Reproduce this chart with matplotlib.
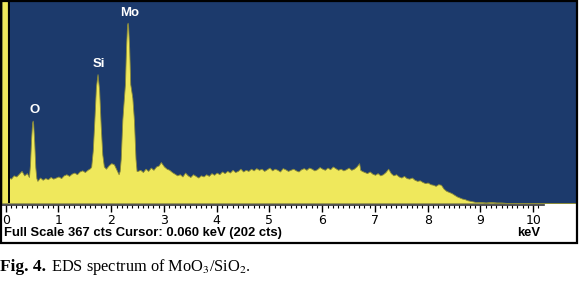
import matplotlib

matplotlib.use("Agg")
import matplotlib.pyplot as plt
from matplotlib.patches import Rectangle
from matplotlib.ticker import FixedLocator

# spectrum (keV, counts); full scale = 367 cts
KEV = [
    -0.08, -0.075, 0.035, 0.045,
    0.05, 0.10, 0.15, 0.20, 0.25, 0.30, 0.35, 0.40, 0.44,
    0.46, 0.48, 0.50, 0.51, 0.52, 0.54, 0.56, 0.58,
    0.60, 0.65, 0.70, 0.75, 0.80, 0.85, 0.90, 0.95, 1.00, 1.05, 1.10, 1.15,
    1.20, 1.25, 1.30, 1.35, 1.40, 1.45, 1.50, 1.55, 1.60,
    1.62, 1.65, 1.68, 1.71, 1.74, 1.77, 1.80, 1.83, 1.86,
    1.90, 1.95, 2.00, 2.05, 2.10, 2.14,
    2.16, 2.18, 2.21, 2.24, 2.26, 2.28, 2.30, 2.31, 2.32, 2.34, 2.36, 2.40,
    2.43, 2.46, 2.48,
    2.50, 2.55, 2.60, 2.65, 2.70, 2.75, 2.80, 2.85, 2.90, 2.94, 3.00, 3.05,
    3.10, 3.15, 3.20, 3.25, 3.30, 3.35, 3.40, 3.45, 3.50, 3.55, 3.60, 3.65,
    3.70, 3.75, 3.80, 3.85, 3.90, 3.95, 4.00, 4.05, 4.10, 4.15, 4.20, 4.25,
    4.30, 4.35, 4.40, 4.45, 4.50, 4.55, 4.60, 4.65, 4.70, 4.75, 4.80, 4.85,
    4.90, 4.95, 5.00, 5.05, 5.10, 5.15, 5.20, 5.25, 5.30, 5.35, 5.40, 5.45,
    5.50, 5.55, 5.60, 5.65, 5.70, 5.75, 5.80, 5.85, 5.90, 5.95, 6.00, 6.05,
    6.10, 6.15, 6.20, 6.25, 6.30, 6.35, 6.40, 6.45, 6.50, 6.55, 6.60, 6.65,
    6.70, 6.72, 6.75, 6.80, 6.85, 6.90, 6.95, 7.00, 7.05, 7.10, 7.15, 7.20,
    7.25, 7.30, 7.35, 7.40, 7.45, 7.50, 7.55, 7.60, 7.65, 7.70, 7.75, 7.80,
    7.85, 7.90, 7.95, 8.00, 8.05, 8.10, 8.15, 8.20, 8.25, 8.30, 8.35, 8.40,
    8.45, 8.50, 8.55, 8.60, 8.65, 8.70, 8.75, 8.80, 8.85, 8.90, 9.00, 9.10,
    9.20, 9.30, 9.40, 9.50, 10.9,
]
CTS = [
    0, 420, 420, 46,
    46, 44, 50, 48, 53, 58, 50, 54, 47,
    70, 115, 145, 149, 143, 110, 65, 45,
    40, 46, 42, 45, 43, 47, 44, 46, 48, 45, 50, 52,
    49, 53, 55, 52, 57, 59, 56, 60, 63,
    66, 95, 150, 210, 233, 205, 140, 88, 66,
    62, 68, 72, 70, 60, 52,
    58, 80, 150, 190, 215, 280, 322, 326, 320, 280, 215, 190,
    150, 80, 58,
    58, 60, 56, 62, 58, 64, 60, 66, 68, 74, 66, 62,
    60, 56, 53, 50, 52, 48, 55, 50, 47, 52, 49, 46,
    50, 48, 52, 49, 54, 51, 55, 52, 57, 54, 58, 55,
    60, 56, 58, 62, 57, 60, 58, 62, 59, 63, 60, 62,
    58, 61, 64, 59, 62, 60, 57, 63, 61, 58, 60, 62,
    59, 57, 61, 63, 60, 64, 62, 59, 61, 65, 62, 60,
    64, 61, 66, 63, 60, 62, 59, 61, 64, 60, 62, 66,
    72, 60, 58, 56, 54, 57, 53, 51, 54, 50, 52, 56,
    62, 54, 50, 52, 48, 46, 49, 45, 44, 46, 42, 40,
    41, 38, 36, 37, 34, 33, 31, 34, 33, 26, 22, 20,
    18, 15, 12, 10, 8, 7, 5, 4, 3, 2, 2, 1,
    2, 1, 1, 0, 0,
]

PEAKS = [("O", 0.51, 149), ("Si", 1.74, 233), ("Mo", 2.31, 326)]
FULL_SCALE = 367
CURSOR_KEV = 0.060
MAJOR_TICKS = [0, 1, 2, 3, 4, 5, 6, 7, 8, 9, 10]
STATUS = "Full Scale 367 cts Cursor: 0.060 keV (202 cts)"

BLUE = "#1c3a6c"
YELLOW = "#efe85c"

W, H = 580, 282
plt.rcParams["mathtext.fontset"] = "stix"
fig = plt.figure(figsize=(W / 100, H / 100), dpi=100)

# outer instrument frame
fig.patches.append(Rectangle((1 / W, 1 - 243 / H), 576 / W, 243 / H - 0.002,
                             transform=fig.transFigure, fill=False,
                             edgecolor="black", linewidth=1.6, zorder=5))

ax = fig.add_axes([1 / W, 1 - 203 / H, 576 / W, 203 / H])
ax.set_facecolor(BLUE)
ax.fill_between(KEV, CTS, 0, color=YELLOW, linewidth=0.6, edgecolor="#8a8a3a")
ax.axvline(CURSOR_KEV, color="black", linewidth=1.4)
ax.set_xlim(-0.09, 10.83)
ax.set_ylim(0, FULL_SCALE)
for name, e, c in PEAKS:
    ax.annotate(name, (e + 0.03, c), xytext=(0, 3), textcoords="offset points",
                ha="center", va="bottom", color="white", fontsize=9.5,
                fontweight="bold", family="Liberation Sans")

ax.set_yticks([])
ax.xaxis.set_major_locator(FixedLocator(MAJOR_TICKS))
ax.xaxis.set_minor_locator(FixedLocator([i / 10 for i in range(0, 102)]))
ax.tick_params(axis="x", which="major", direction="out", length=5, width=1,
               pad=1.5, labelsize=9)
ax.tick_params(axis="x", which="minor", direction="out", length=2.5, width=0.8)
for lab in ax.get_xticklabels():
    lab.set_fontweight("bold")
    lab.set_family("Liberation Sans")
for s in ax.spines.values():
    s.set_visible(False)
ax.spines["bottom"].set_visible(True)
ax.spines["bottom"].set_position(("outward", 1.5))
ax.spines["bottom"].set_bounds(-0.09, 10.2)
ax.spines["bottom"].set_color("#333333")
ax.spines["bottom"].set_linewidth(1.2)

fig.text(4 / W, 1 - 233 / H, STATUS, ha="left", va="center", fontsize=9.4,
         fontweight="bold", family="Liberation Sans")
fig.text(529 / W, 1 - 233 / H, "keV", ha="center", va="center", fontsize=9.4,
         fontweight="bold", family="Liberation Sans")

fig.text(0 / W, 1 - 267 / H, "Fig. 4.", ha="left", va="center", fontsize=12.5,
         fontweight="bold", family="Liberation Serif")
fig.text(51 / W, 1 - 267 / H, "EDS spectrum of MoO$_3$/SiO$_2$.", ha="left",
         va="center", fontsize=11.8, family="Liberation Serif")

fig.savefig("out.png", dpi=100)
